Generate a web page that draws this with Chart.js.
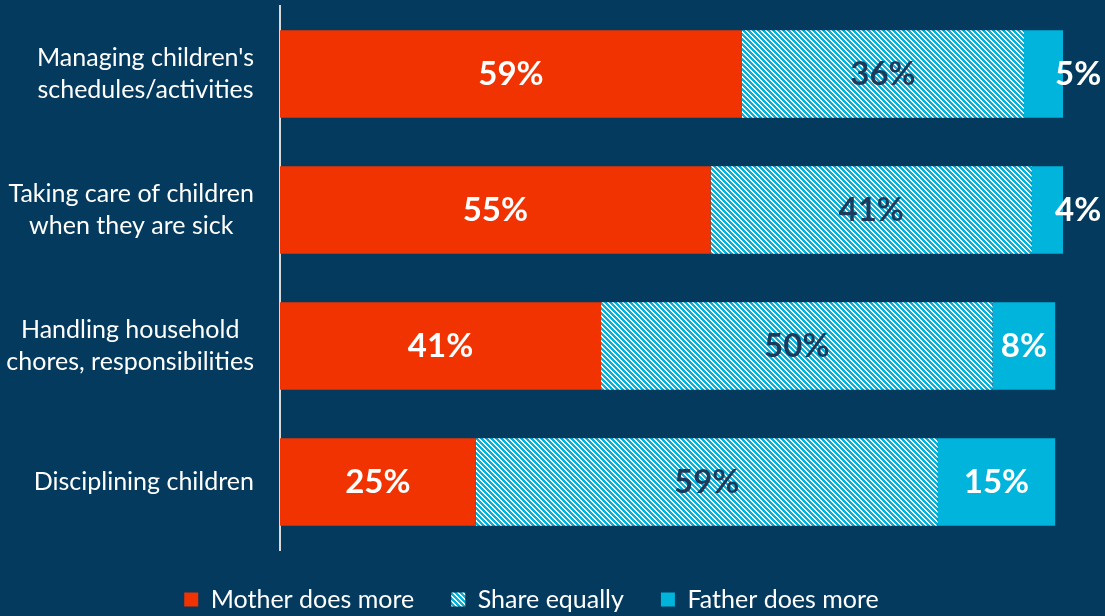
<!DOCTYPE html>
<html>
<head>
<meta charset="utf-8">
<script src="https://cdn.jsdelivr.net/npm/chart.js@4/dist/chart.umd.min.js"></script>
<style>
  html, body { margin: 0; padding: 0; background: #033a5d; }
  #wrap { width: 1105px; height: 616px; }
</style>
</head>
<body>
<div id="wrap"><canvas id="chart" width="1105" height="616"></canvas></div>
<script>
const categories = [
  ["Managing children's", 'schedules/activities'],
  ['Taking care of children', 'when they are sick'],
  ['Handling household', 'chores, responsibilities'],
  ['Disciplining children']
];
const seriesNames = ['Mother does more', 'Share equally', 'Father does more'];
const motherMore = [59, 55, 41, 25];
const shareEqually = [36, 41, 50, 59];
const fatherMore = [5, 4, 8, 15];

const BG = '#033a5d';
const RED = '#f03300';
const CYAN = '#00b4dc';

// diagonal white/cyan stripes, drawn pixel by pixel so they stay crisp
function makeHatch() {
  const size = 5;
  const c = document.createElement('canvas');
  c.width = size;
  c.height = size;
  const ctx = c.getContext('2d');
  ctx.fillStyle = CYAN;
  ctx.fillRect(0, 0, size, size);
  ctx.fillStyle = '#ffffff';
  for (let y = 0; y < size; y++) {
    for (let x = 0; x < size; x++) {
      if (((x - y) % size + size) % size < 2) ctx.fillRect(x, y, 1, 1);
    }
  }
  return ctx.createPattern(c, 'repeat');
}
const hatch = makeHatch();

const labelColors = ['#ffffff', '#1d3a5c', '#ffffff'];

const valueLabels = {
  id: 'valueLabels',
  afterDatasetsDraw(chart) {
    const ctx = chart.ctx;
    ctx.save();
    ctx.font = 'bold 33px Lato';
    ctx.textBaseline = 'middle';
    chart.data.datasets.forEach((ds, i) => {
      const meta = chart.getDatasetMeta(i);
      meta.data.forEach((bar, j) => {
        const text = ds.data[j] + '%';
        const w = ctx.measureText(text).width;
        const left = Math.min(bar.x, bar.base);
        const right = Math.max(bar.x, bar.base);
        ctx.fillStyle = labelColors[i];
        if (w + 10 > right - left) {
          ctx.textAlign = 'left';
          ctx.fillText(text, right - 8, bar.y);
        } else {
          ctx.textAlign = 'center';
          ctx.fillText(text, (left + right) / 2, bar.y);
        }
      });
    });
    ctx.restore();
  }
};

// category labels: each block right-aligned to the axis, lines centred inside the block
const categoryLabels = {
  id: 'categoryLabels',
  afterDraw(chart) {
    const ctx = chart.ctx;
    const y = chart.scales.y;
    const lineH = 32;
    const rightEdge = y.right - 26;
    ctx.save();
    ctx.font = '25px Lato';
    ctx.fillStyle = '#ffffff';
    ctx.textAlign = 'center';
    ctx.textBaseline = 'middle';
    chart.data.labels.forEach((lines, i) => {
      const cy = y.getPixelForValue(i);
      const blockW = Math.max(...lines.map(l => ctx.measureText(l).width));
      const cx = rightEdge - blockW / 2;
      const top = cy - (lines.length - 1) * lineH / 2;
      lines.forEach((l, k) => ctx.fillText(l, cx, top + k * lineH));
    });
    ctx.restore();
  }
};

const bgPlugin = {
  id: 'bg',
  beforeDraw(chart) {
    const ctx = chart.ctx;
    ctx.save();
    ctx.fillStyle = BG;
    ctx.fillRect(0, 0, chart.width, chart.height);
    ctx.restore();
  }
};

const barOpts = { barPercentage: 0.9, categoryPercentage: 0.713, borderWidth: 0 };

new Chart(document.getElementById('chart'), {
  type: 'bar',
  data: {
    labels: categories,
    datasets: [
      { label: seriesNames[0], data: motherMore, backgroundColor: RED, ...barOpts },
      { label: seriesNames[1], data: shareEqually, backgroundColor: hatch, ...barOpts },
      { label: seriesNames[2], data: fatherMore, backgroundColor: CYAN, ...barOpts }
    ]
  },
  options: {
    indexAxis: 'y',
    responsive: false,
    devicePixelRatio: 1,
    animation: false,
    layout: { padding: { top: 6, right: 42, left: 0, bottom: -6 } },
    scales: {
      x: { stacked: true, min: 0, max: 100, display: false },
      y: {
        stacked: true,
        afterFit(scale) {
          scale.width = 280;
          scale.paddingTop = 0;
          scale.paddingBottom = 0;
        },
        grid: { display: false, drawTicks: false },
        border: { display: true, color: '#d9d9d9', width: 2 },
        ticks: { display: false }
      }
    },
    plugins: {
      legend: {
        position: 'bottom',
        labels: {
          color: '#ffffff',
          font: { family: 'Lato', size: 25 },
          boxWidth: 14,
          boxHeight: 14,
          padding: 37
        }
      },
      tooltip: { enabled: false }
    }
  },
  plugins: [bgPlugin, categoryLabels, valueLabels]
});
</script>
</body>
</html>
